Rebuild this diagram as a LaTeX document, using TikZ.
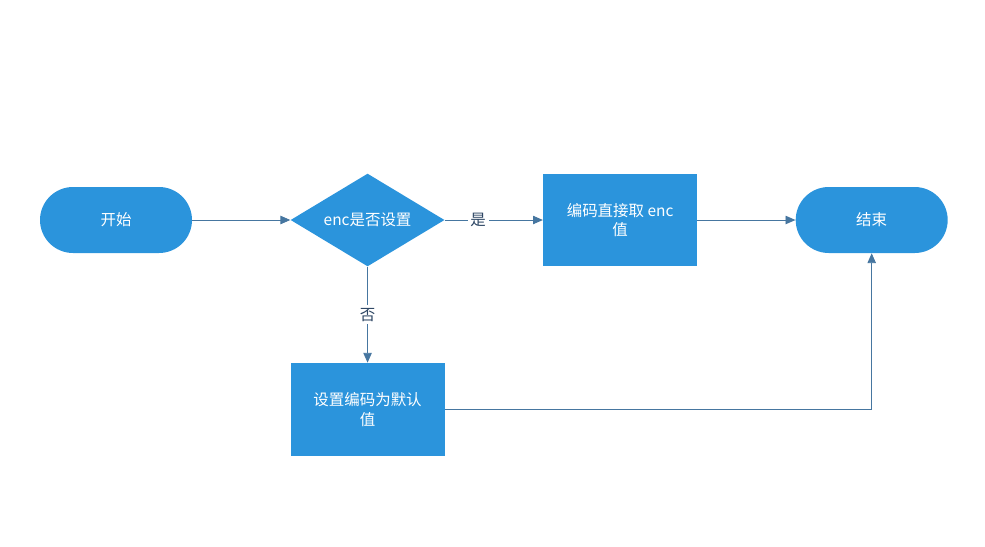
\documentclass[tikz,border=0pt]{standalone}
\usepackage{fontspec}
\setmainfont{Noto Sans CJK SC}
\usetikzlibrary{arrows.meta, shapes.geometric, positioning}
\definecolor{flowblue}{RGB}{43,148,220}
\definecolor{flowline}{RGB}{70,118,160}
\definecolor{flowtext}{RGB}{45,70,100}

\begin{document}
\begin{tikzpicture}[
  node distance=2.4cm and 2.45cm,
  base/.style={fill=flowblue, draw=none, text=white, font=\fontsize{11}{14}\selectfont, align=center, inner sep=0pt},
  termbox/.style={base, rectangle, rounded corners=0.825cm, minimum width=3.8cm, minimum height=1.65cm},
  procbox/.style={base, rectangle, minimum width=3.85cm, minimum height=2.32cm},
  decbox/.style={base, diamond, shape aspect=1.65, minimum width=3.85cm, minimum height=2.32cm},
  link/.style={draw=flowline, line width=0.6pt, -{Triangle[length=7pt, width=6pt]}},
  lbl/.style={fill=white, text=flowtext, font=\fontsize{11}{13}\selectfont, inner sep=2pt},
]
\useasboundingbox (0,0) rectangle (24.625,-13.65);

\node[termbox] (start) at (2.9,-5.5) {开始};
\node[decbox, right=of start] (check) {enc是否设置};
\node[procbox, right=of check] (direct) {编码直接取 enc\\值};
\node[termbox, right=of direct] (stop) {结束};
\node[procbox, below=of check] (default) {设置编码为默认\\值};

\draw[link] (start) -- (check);
\draw[link] (check) -- node[lbl, pos=0.34] {是} (direct);
\draw[link] (direct) -- (stop);
\draw[link] (check) -- node[lbl] {否} (default);
\draw[link] (default.east) -| (stop.south);
\end{tikzpicture}
\end{document}
